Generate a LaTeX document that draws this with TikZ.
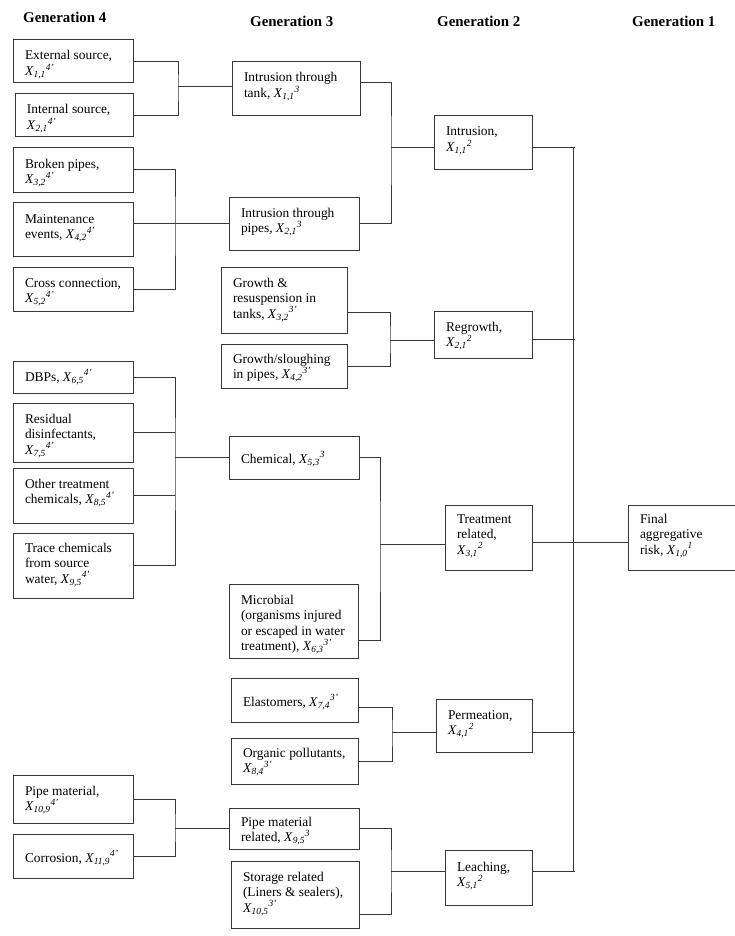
\documentclass[tikz,border=0pt]{standalone}
\usepackage{fontspec}
\setmainfont{Liberation Serif}
\newcommand\Xv[2]{\textit{X}\textsubscript{\textit{#1}}\textsuperscript{\textit{#2}}}
\newcommand\mytxt[1]{\parbox[t]{200pt}{\raggedright #1}}
\newcommand\mybox[7]{%
  \node[bx, minimum width={#4pt-#2pt}, minimum height={#5pt-#3pt}, anchor=north west] (#1) at (#2,#3) {};
  \node[txt, anchor=base west] (#1t) at (#2+12,#3+#6) {\mytxt{#7}};}
\tikzset{
  bx/.style={draw=black!78, line width=1pt, inner sep=0pt, outer sep=0pt, fill=none},
  txt/.style={inner sep=0pt, outer sep=0pt, font=\fontsize{13.4}{15.5}\selectfont},
  hd/.style={inner sep=0pt, anchor=base west, font=\fontsize{14.9}{17}\selectfont\bfseries},
  cn/.style={draw=black!78, line width=1pt}
}
\begin{document}
\begin{tikzpicture}[x=1pt,y=-1pt]
\useasboundingbox[fill=white] (0,0) rectangle (735,936);
% headings
\node[hd] (h4) at (23,22.5) {Generation 4};
\node[hd] (h3) at (250,27) {Generation 3};
\node[hd] (h2) at (437,27) {Generation 2};
\node[hd] (h1) at (632,27) {Generation 1};
% generation 4
\mybox{ext}{13}{40}{133}{83}{20}{External source,\\ \Xv{1,1}{4'}}
\mybox{int}{15}{94}{133}{137}{20}{Internal source,\\ \Xv{2,1}{4'}}
\mybox{brk}{13}{148}{133}{192}{20}{Broken pipes,\\ \Xv{3,2}{4'}}
\mybox{mnt}{13}{202}{133}{256}{21}{Maintenance\\ events, \Xv{4,2}{4'}}
\mybox{crs}{13}{267}{133}{311}{20}{Cross connection,\\ \Xv{5,2}{4'}}
\mybox{dbp}{13}{361}{133}{393}{20}{DBPs, \Xv{6,5}{4'}}
\mybox{res}{13}{403}{133}{462}{20}{Residual\\ disinfectants,\\ \Xv{7,5}{4'}}
\mybox{oth}{13}{468}{133}{523}{20}{Other treatment\\ chemicals, \Xv{8,5}{4'}}
\mybox{trc}{13}{533}{133}{598}{19}{Trace chemicals\\ from source\\ water, \Xv{9,5}{4'}}
\mybox{pmf}{13}{775}{133}{823}{20}{Pipe material,\\ \Xv{10,9}{4'}}
\mybox{cor}{13}{834}{133}{878}{28}{Corrosion, \Xv{11,9}{4'}}
% generation 3
\mybox{tank}{232}{62}{360}{116}{20}{Intrusion through\\ tank, \Xv{1,1}{3}}
\mybox{pipes}{229}{197}{359}{250}{20}{Intrusion through\\ pipes, \Xv{2,1}{3}}
\mybox{grt}{221}{267}{347}{333}{20}{Growth \&\\ resuspension in\\ tanks, \Xv{3,2}{3'}}
\mybox{gsl}{221}{344}{347}{388}{19}{Growth/sloughing\\ in pipes, \Xv{4,2}{3'}}
\mybox{chem}{229}{436}{359}{479}{27}{Chemical, \Xv{5,3}{3}}
\mybox{micr}{229}{584}{358}{658}{20}{Microbial\\ (organisms injured\\ or escaped in water\\ treatment), \Xv{6,3}{3'}}
\mybox{elas}{231}{678}{358}{722}{28}{Elastomers, \Xv{7,4}{3'}}
\mybox{org}{231}{738}{358}{784}{19}{Organic pollutants,\\ \Xv{8,4}{3'}}
\mybox{pmr}{229}{808}{359}{849}{18}{Pipe material\\ related, \Xv{9,5}{3}}
\mybox{stor}{231}{861}{359}{928}{20}{Storage related\\ (Liners \& sealers),\\ \Xv{10,5}{3'}}
% generation 2
\mybox{intr}{434}{116}{532}{170}{20}{Intrusion,\\ \Xv{1,1}{2}}
\mybox{regr}{434}{311}{532}{358}{20}{Regrowth,\\ \Xv{2,1}{2}}
\mybox{treat}{445}{505}{532}{570}{18}{Treatment\\ related,\\ \Xv{3,1}{2}}
\mybox{perm}{436}{699}{532}{752}{20}{Permeation,\\ \Xv{4,1}{2}}
\mybox{leach}{445}{850}{532}{905}{21}{Leaching,\\ \Xv{5,1}{2}}
% generation 1
\mybox{final}{628}{505}{740}{570}{18}{Final\\ aggregative\\ risk, \Xv{1,0}{1}}
% junctions
\coordinate (j1) at (178,87);
\coordinate (j2) at (175,223);
\coordinate (j3) at (175,457);
\coordinate (j4) at (175,828);
\coordinate (j5) at (391,148);
\coordinate (j6) at (390,340);
\coordinate (j7) at (380,544);
\coordinate (j8) at (392,732);
\coordinate (j9) at (391,871);
\coordinate (top) at (573,148);
\coordinate (bot) at (573,871);
\coordinate (r1) at (573,339);
\coordinate (t1) at (573,542);
\coordinate (p1) at (573,732);
% gen 4 -> gen 3
\draw[cn] (ext.east) -| (j1) |- (int.east);
\draw[cn] (j1) -- (tank.west |- j1);
\draw[cn] (brk.east) -| (j2) |- (crs.east);
\draw[cn] (mnt.east |- j2) -- (pipes.west |- j2);
\draw[cn] (dbp.east) -| (j3) |- (trc.east);
\draw[cn] (res.east) -- (res.east -| j3);
\draw[cn] (oth.east) -- (oth.east -| j3);
\draw[cn] (j3) -- (chem.west |- j3);
\draw[cn] (pmf.east) -| (j4) |- (cor.east);
\draw[cn] (j4) -- (pmr.west |- j4);
% gen 3 -> gen 2
\draw[cn] ([yshift=6pt]tank.east) -| (j5) |- (pipes.east);
\draw[cn] (j5) -- (intr.west |- j5);
\draw[cn] ([yshift=-12pt]grt.east) -| (j6) |- (gsl.east);
\draw[cn] (j6) -- (regr.west |- j6);
\draw[cn] (chem.east) -| (j7) |- ([yshift=18pt]micr.south east);
\draw[cn] (j7) -- (treat.west |- j7);
\draw[cn] ([yshift=-7pt]elas.east) -| (j8) |- (org.east);
\draw[cn] (j8) -- (perm.west |- j8);
\draw[cn] (pmr.east) -| (j9) |- ([yshift=14pt]stor.south east);
\draw[cn] (j9) -- (leach.west |- j9);
% gen 2 -> gen 1
\draw[cn] (top) -- (bot);
\draw[cn] (intr.east |- top) -- ([xshift=2pt]top);
\draw[cn] (regr.east |- r1) -- ([xshift=2pt]r1);
\draw[cn] (treat.east |- t1) -- (final.west |- t1);
\draw[cn] (perm.east |- p1) -- ([xshift=2pt]p1);
\draw[cn] (leach.east |- bot) -- ([xshift=2pt]bot);
\end{tikzpicture}
\end{document}
